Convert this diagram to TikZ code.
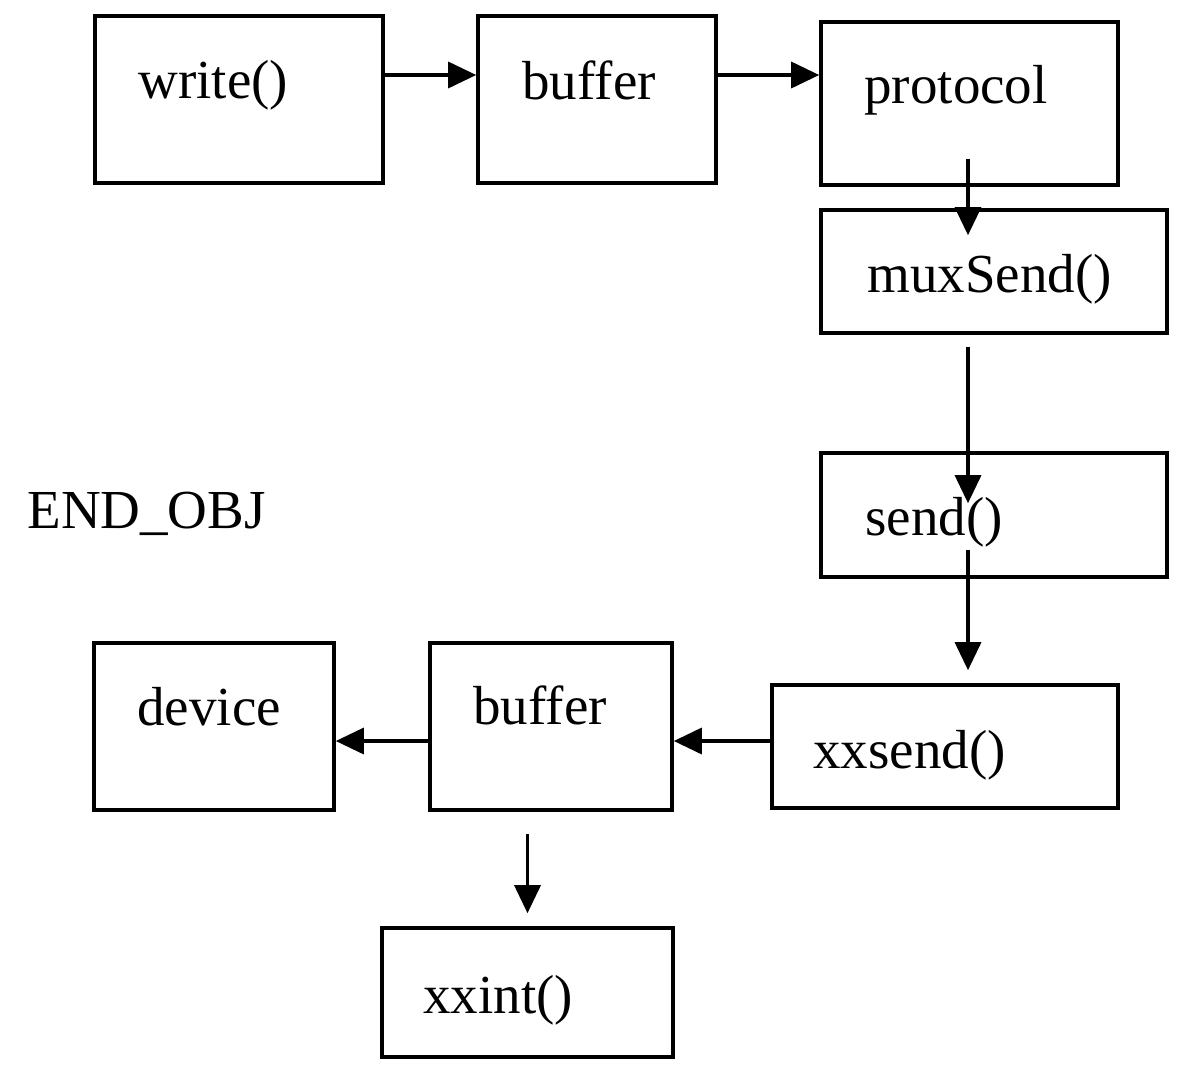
\documentclass[tikz,border=0pt]{standalone}
\usepackage{fontspec}
\setmainfont{Liberation Serif}
\usetikzlibrary{arrows.meta,calc}

\tikzset{
  box/.style 2 args={draw, rectangle, line width=1.8pt, inner sep=0pt,
    minimum width=#1*0.5pt, minimum height=#2*0.5pt},
  lbl/.style={anchor=base west, inner sep=0pt,
    font=\fontsize{27.5}{33}\selectfont},
  arr/.style={line width=1.7pt, -{Triangle[length=14pt,width=13pt]}}
}

\begin{document}
\begin{tikzpicture}[x=0.5pt,y=-0.5pt]
  \useasboundingbox (0,0) rectangle (1187,1077);

  % boxes
  \node[box={288}{167}] (write)    at (239,99.5)   {};
  \node[box={238}{167}] (buf1)     at (597,99.5)   {};
  \node[box={297}{163}] (protocol) at (969.5,103.5) {};
  \node[box={346}{123}] (muxSend)  at (994,271.5)  {};
  \node[box={346}{124}] (send)     at (994,515)    {};
  \node[box={346}{123}] (xxsend)   at (945,746.5)  {};
  \node[box={242}{167}] (buf2)     at (551,726.5)  {};
  \node[box={240}{167}] (device)   at (214,726.5)  {};
  \node[box={291}{129}] (xxint)    at (527.5,992.5) {};

  % labels
  \node[lbl] (t-write)    at (138,98)   {write()};
  \node[lbl] (t-buf1)     at (522,99)   {buffer};
  \node[lbl] (t-protocol) at (864,103)  {protocol};
  \node[lbl] (t-muxSend)  at (867,292)  {muxSend()};
  \node[lbl] (t-send)     at (865,535)  {send()};
  \node[lbl] (t-xxsend)   at (813,768)  {xxsend()};
  \node[lbl] (t-buf2)     at (473,724)  {buffer};
  \node[lbl] (t-device)   at (137,725)  {device};
  \node[lbl] (t-xxint)    at (423,1013) {xxint()};
  \node[lbl] (t-end)      at (27,528)   {END\_OBJ};

  % connectors
  \draw[arr] ($(write.east)+(0,-24.5)$) -- ($(buf1.west)+(0,-24.5)$);
  \draw[arr] ($(buf1.east)+(0,-24.5)$) coordinate (h1) -- (h1 -| protocol.west);
  \draw[arr] ($(protocol.south)+(-1.5,-28)$) coordinate (v1)
             -- ($(v1 |- muxSend.north)+(0,27)$);
  \draw[arr] ($(muxSend.south -| v1)+(0,12)$) -- ($(send.north -| v1)+(0,52)$);
  \draw[arr] ($(send.south -| v1)+(0,-29)$) -- ($(xxsend.north -| v1)+(0,-13)$);
  \draw[arr] ($(xxsend.west)+(0,-5.5)$) coordinate (h2) -- (h2 -| buf2.east);
  \draw[arr] (buf2.west |- h2) -- (device.east |- h2);
  \draw[arr] ($(buf2.south -| xxint.north)+(0,22)$) -- ($(xxint.north)+(0,-13)$);
\end{tikzpicture}
\end{document}
